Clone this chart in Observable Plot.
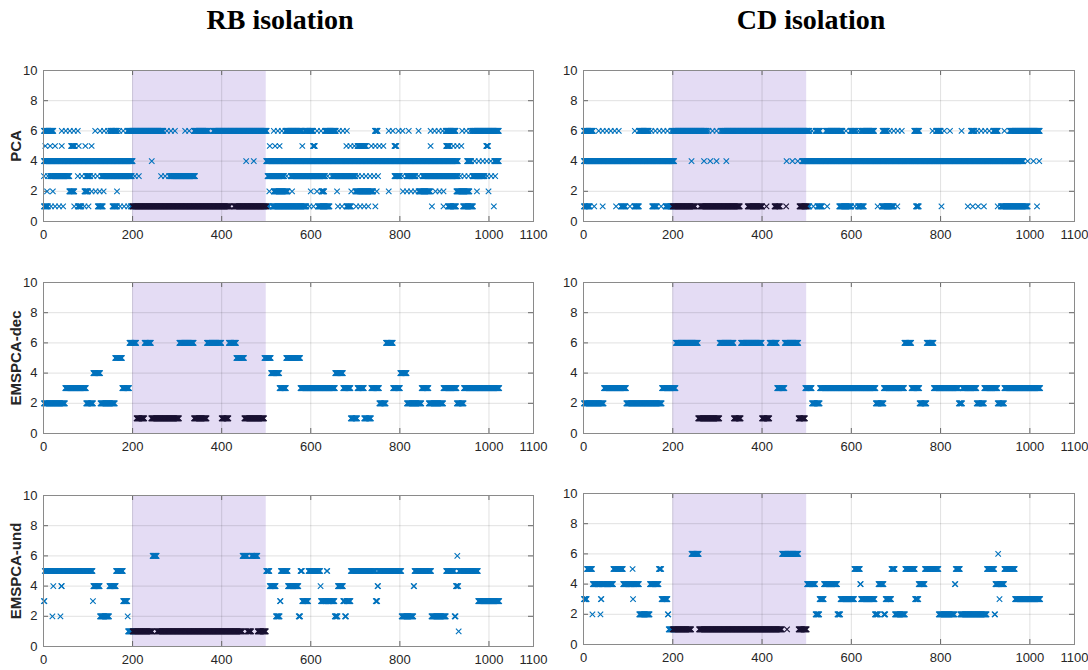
<!DOCTYPE html>
<html><head><meta charset="utf-8">
<script src="https://cdn.jsdelivr.net/npm/d3@7"></script>
<script src="https://cdn.jsdelivr.net/npm/@observablehq/plot@0.6"></script>
<style>
body{margin:0;background:#fff;}
#fig{position:relative;width:1088px;height:670px;overflow:hidden;background:#fff;}
.title{position:absolute;top:4px;font-family:"Liberation Serif","Times New Roman",serif;font-weight:bold;font-size:28px;line-height:32px;color:#000;transform:translateX(-50%);white-space:nowrap;}
.ylab{position:absolute;font-family:"Liberation Sans",Arial,sans-serif;font-weight:bold;font-size:15px;color:#262626;transform:translate(-50%,-50%) rotate(-90deg);white-space:nowrap;}
.panel{position:absolute;}
</style></head><body><div id="fig"></div>
<script>
const columnTitles = ["RB isolation", "CD isolation"];
const rowLabels = ["PCA", "EMSPCA-dec", "EMSPCA-und"];
const xTicks = [0, 200, 400, 600, 800, 1000, 1100];
const yTicks = [0, 2, 4, 6, 8, 10];
const isolationWindow = [200, 500];
const faultyLevel = 1;

// PCA: [start, end, level, kind]  kind: "s" dense run, "c" chain of separate markers, "x" single marker
const pcaRB = [
 [1,22,6,"s"],[41,82,6,"c"],[116,116,6,"x"],[127,150,6,"c"],[150,165,6,"s"],[170,188,6,"c"],[190,269,6,"s"],[277,303,6,"c"],[318,335,6,"c"],[338,370,6,"s"],[381,501,6,"s"],[517,540,6,"c"],[543,580,6,"s"],[586,605,6,"s"],[614,630,6,"c"],[632,656,6,"s"],[663,689,6,"c"],[744,750,6,"s"],[775,790,6,"c"],[797,806,6,"c"],[820,820,6,"x"],[842,842,6,"x"],[869,900,6,"c"],[903,925,6,"s"],[940,960,6,"c"],[962,1022,6,"s"],
 [4,4,5,"x"],[15,15,5,"x"],[26,26,5,"x"],[41,41,5,"x"],[62,70,5,"s"],[79,79,5,"x"],[94,94,5,"x"],[108,108,5,"x"],[508,508,5,"x"],[520,520,5,"x"],[530,530,5,"x"],[581,581,5,"x"],[605,609,5,"s"],[680,700,5,"c"],[705,724,5,"s"],[736,768,5,"c"],[788,792,5,"s"],[869,869,5,"x"],[904,912,5,"s"],[920,940,5,"c"],[994,998,5,"s"],
 [1,200,4,"s"],[243,243,4,"x"],[455,455,4,"x"],[472,472,4,"x"],[500,930,4,"s"],[951,960,4,"s"],[968,1005,4,"c"],[1012,1022,4,"s"],
 [1,12,3,"c"],[15,58,3,"s"],[77,95,3,"c"],[97,105,3,"s"],[112,128,3,"c"],[130,198,3,"s"],[205,222,3,"c"],[264,282,3,"c"],[285,340,3,"s"],[503,540,3,"s"],[546,555,3,"c"],[556,632,3,"s"],[638,650,3,"c"],[650,700,3,"s"],[706,754,3,"c"],[788,800,3,"s"],[806,815,3,"c"],[816,835,3,"s"],[842,850,3,"c"],[851,930,3,"s"],[936,960,3,"c"],[963,990,3,"s"],[996,1022,3,"c"],
 [8,8,2,"x"],[21,21,2,"x"],[58,69,2,"s"],[92,100,2,"s"],[108,140,2,"c"],[165,165,2,"x"],[507,507,2,"x"],[517,548,2,"s"],[558,558,2,"x"],[600,600,2,"x"],[614,614,2,"x"],[624,630,2,"s"],[659,659,2,"x"],[691,700,2,"c"],[702,740,2,"s"],[748,748,2,"x"],[775,775,2,"x"],[807,840,2,"c"],[842,868,2,"s"],[880,904,2,"c"],[927,956,2,"s"],[973,973,2,"x"],[999,999,2,"x"],
 [1,10,1,"s"],[17,47,1,"c"],[69,75,1,"c"],[77,85,1,"s"],[92,104,1,"c"],[122,133,1,"s"],[155,165,1,"s"],[172,190,1,"c"],[196,418,1,"s"],[428,506,1,"s"],[514,590,1,"s"],[597,610,1,"c"],[616,642,1,"s"],[661,675,1,"c"],[680,690,1,"s"],[702,732,1,"c"],[745,745,1,"x"],[872,872,1,"x"],[898,898,1,"x"],[908,926,1,"s"],[942,964,1,"s"],[1011,1011,1,"x"]
];
const pcaCD = [
 [1,21,6,"s"],[34,86,6,"c"],[115,115,6,"x"],[124,146,6,"s"],[152,198,6,"c"],[200,276,6,"s"],[280,308,6,"c"],[310,506,6,"s"],[512,512,6,"x"],[520,530,6,"s"],[543,580,6,"s"],[588,588,6,"x"],[598,610,6,"s"],[616,616,6,"x"],[622,651,6,"s"],[670,680,6,"s"],[686,718,6,"c"],[741,752,6,"s"],[782,782,6,"x"],[790,800,6,"s"],[808,808,6,"x"],[821,821,6,"x"],[847,847,6,"x"],[868,876,6,"s"],[882,914,6,"c"],[918,928,6,"s"],[943,950,6,"c"],[955,1022,6,"s"],
 [1,203,4,"s"],[242,242,4,"x"],[270,270,4,"x"],[284,284,4,"x"],[298,298,4,"x"],[320,320,4,"x"],[455,455,4,"x"],[468,468,4,"x"],[480,480,4,"x"],[490,985,4,"s"],[995,995,4,"x"],[1008,1008,4,"x"],[1021,1021,4,"x"],
 [1,14,1,"s"],[24,24,1,"x"],[43,43,1,"x"],[73,73,1,"x"],[84,94,1,"s"],[104,104,1,"x"],[114,124,1,"s"],[154,164,1,"s"],[174,174,1,"x"],[184,250,1,"s"],[262,350,1,"s"],[368,400,1,"s"],[410,410,1,"x"],[428,440,1,"s"],[454,454,1,"x"],[484,506,1,"s"],[515,515,1,"x"],[524,534,1,"s"],[546,546,1,"x"],[573,600,1,"s"],[608,608,1,"x"],[615,628,1,"s"],[659,659,1,"x"],[668,695,1,"s"],[703,703,1,"x"],[745,751,1,"s"],[802,802,1,"x"],[861,861,1,"x"],[872,872,1,"x"],[884,884,1,"x"],[897,897,1,"x"],[928,928,1,"x"],[935,995,1,"s"],[1016,1016,1,"x"]
];
// EMSPCA: [startSample, endSample, isolatedVariable]
const decRB = [[1,48,2],[49,95,3],[96,111,2],[112,127,4],[128,160,2],[161,176,5],[177,192,3],[193,208,6],[209,226,1],[227,241,6],[242,304,1],[305,337,6],[338,366,1],[367,399,6],[400,415,1],[416,432,6],[433,450,5],[451,495,1],[496,510,5],[511,529,4],[530,544,3],[545,576,5],[577,654,3],[655,672,4],[673,689,3],[690,704,1],[705,719,3],[720,735,1],[736,753,3],[754,768,2],[769,784,6],[785,800,3],[801,815,4],[816,848,2],[849,864,3],[865,897,2],[898,927,3],[928,943,2],[944,1023,3]];
const decCD = [[1,45,2],[46,95,3],[96,175,2],[176,206,3],[207,256,6],[257,304,1],[305,336,6],[337,352,1],[353,399,6],[400,416,1],[417,433,6],[434,450,3],[451,481,6],[482,496,1],[497,511,3],[512,529,2],[530,654,3],[655,672,2],[673,718,3],[719,734,6],[735,752,3],[753,768,2],[769,784,6],[785,840,3],[841,848,2],[849,880,3],[881,897,2],[898,927,3],[928,942,2],[943,1023,3]];
const undRB = [[1,2,3],[3,19,5],[20,20,2],[21,21,5],[22,22,4],[23,37,5],[38,38,2],[39,39,5],[40,41,4],[42,110,5],[111,111,3],[112,126,4],[127,147,2],[148,162,4],[163,178,5],[179,188,3],[189,189,2],[190,244,1],[245,254,6],[255,446,1],[447,457,6],[458,466,1],[467,480,6],[481,499,1],[500,507,5],[508,521,4],[522,530,2],[531,532,3],[533,548,5],[549,572,4],[573,576,2],[577,580,5],[581,594,3],[595,621,5],[622,622,4],[623,635,3],[636,637,5],[638,653,3],[654,660,2],[661,672,4],[673,676,3],[677,679,2],[680,689,3],[690,745,5],[746,749,3],[750,751,4],[752,803,5],[804,830,2],[831,832,4],[833,870,5],[871,903,2],[904,922,5],[923,925,2],[926,928,4],[929,929,6],[930,931,4],[932,932,1],[933,975,5],[976,1023,3]];
const undCD = [[1,7,3],[8,19,5],[20,20,2],[21,37,4],[38,38,2],[39,40,3],[41,66,4],[67,88,5],[89,109,4],[110,110,5],[111,111,3],[112,124,4],[125,148,2],[149,168,4],[169,174,5],[175,188,3],[189,190,2],[191,241,1],[242,258,6],[259,444,1],[445,455,6],[456,456,1],[457,481,6],[482,500,1],[501,519,4],[520,528,2],[529,538,3],[539,568,4],[569,575,2],[576,606,3],[607,619,5],[620,621,4],[622,652,3],[653,660,2],[661,672,4],[673,676,2],[677,689,3],[690,697,5],[698,720,2],[721,742,5],[743,750,3],[751,764,4],[765,795,5],[796,831,2],[832,833,4],[834,843,5],[844,903,2],[904,920,5],[921,922,2],[923,928,4],[929,929,6],[930,931,4],[932,932,3],[933,942,4],[943,966,5],[967,1023,3]];

const BLUE = "#0072BD", DARK = "#1a1233", SHADE = "#e4dcf4";
const CHAIN_STEP = 9;

function expandSegments(segs) {
  const pts = [];
  for (const [s, e, v, k] of segs) {
    const step = k === "c" ? CHAIN_STEP : 1;
    for (let i = s; i <= e; i += step) pts.push({x: i, y: v});
  }
  return pts;
}
function expandRuns(runs) {
  const pts = [];
  for (const [s, e, v] of runs) for (let i = s; i <= e; i++) pts.push({x: i, y: v});
  return pts;
}
const isIsolated = d => d.y === faultyLevel && d.x >= isolationWindow[0] && d.x <= isolationWindow[1];

const panels = [
  {col: 0, row: 0, pts: expandSegments(pcaRB)},
  {col: 1, row: 0, pts: expandSegments(pcaCD)},
  {col: 0, row: 1, pts: expandRuns(decRB)},
  {col: 1, row: 1, pts: expandRuns(decCD)},
  {col: 0, row: 2, pts: expandRuns(undRB)},
  {col: 1, row: 2, pts: expandRuns(undCD)}
];
const colLeft = [0, 540];
const colPlotW = [490, 491];
const colRight = [17, 14];
const rowTop = [[70, 282, 495], [70, 282, 493]];
const plotH = 151;
const mTop = 10, mBottom = 24, mLeft = 43;
const fmt = d => String(d);

const fig = document.getElementById("fig");
for (const p of panels) {
  const pw = colPlotW[p.col];
  const width = mLeft + pw + colRight[p.col];
  const svg = Plot.plot({
    width, height: mTop + plotH + mBottom,
    marginLeft: mLeft, marginRight: colRight[p.col], marginTop: mTop, marginBottom: mBottom,
    x: {domain: [0, 1100], label: null},
    y: {domain: [0, 10], label: null},
    style: {fontFamily: "'Liberation Sans', Arial, sans-serif", fontSize: "13px", color: "#262626", background: "transparent", overflow: "visible"},
    marks: [
      Plot.rect([isolationWindow], {x1: d => d[0], x2: d => d[1], fill: SHADE}),
      Plot.gridX(xTicks.slice(1, -1), {stroke: "#000", strokeOpacity: 0.12}),
      Plot.gridY(yTicks.slice(1, -1), {stroke: "#000", strokeOpacity: 0.12}),
      Plot.tickX(xTicks, {x: d => d, insetBottom: plotH - 5, stroke: "#666"}),
      Plot.tickX(xTicks, {x: d => d, insetTop: plotH - 5, stroke: "#666"}),
      Plot.tickY(yTicks, {y: d => d, insetLeft: pw - 5, stroke: "#666"}),
      Plot.tickY(yTicks, {y: d => d, insetRight: pw - 5, stroke: "#666"}),
      Plot.dot(p.pts.filter(d => !isIsolated(d)), {x: "x", y: "y", symbol: "times", r: 2.6, stroke: BLUE, strokeWidth: 1.1}),
      Plot.dot(p.pts.filter(isIsolated), {x: "x", y: "y", symbol: "times", r: 2.6, stroke: DARK, strokeWidth: 1.1}),
      Plot.frame({stroke: "#8a8a8a"}),
      Plot.axisX(xTicks, {tickSize: 0, tickPadding: 8, fill: "#262626", tickFormat: fmt}),
      Plot.axisY(yTicks, {tickSize: 0, tickPadding: 6, fill: "#262626", tickFormat: fmt})
    ]
  });
  const div = document.createElement("div");
  div.className = "panel";
  div.style.left = colLeft[p.col] + "px";
  div.style.top = (rowTop[p.col][p.row] - mTop) + "px";
  div.appendChild(svg);
  fig.appendChild(div);
}
const titleX = [280, 811];
columnTitles.forEach((t, i) => {
  const d = document.createElement("div");
  d.className = "title"; d.textContent = t; d.style.left = titleX[i] + "px";
  fig.appendChild(d);
});
rowLabels.forEach((t, i) => {
  const d = document.createElement("div");
  d.className = "ylab"; d.textContent = t;
  d.style.left = "15px"; d.style.top = (rowTop[0][i] + plotH / 2) + "px";
  fig.appendChild(d);
});
</script></body></html>
